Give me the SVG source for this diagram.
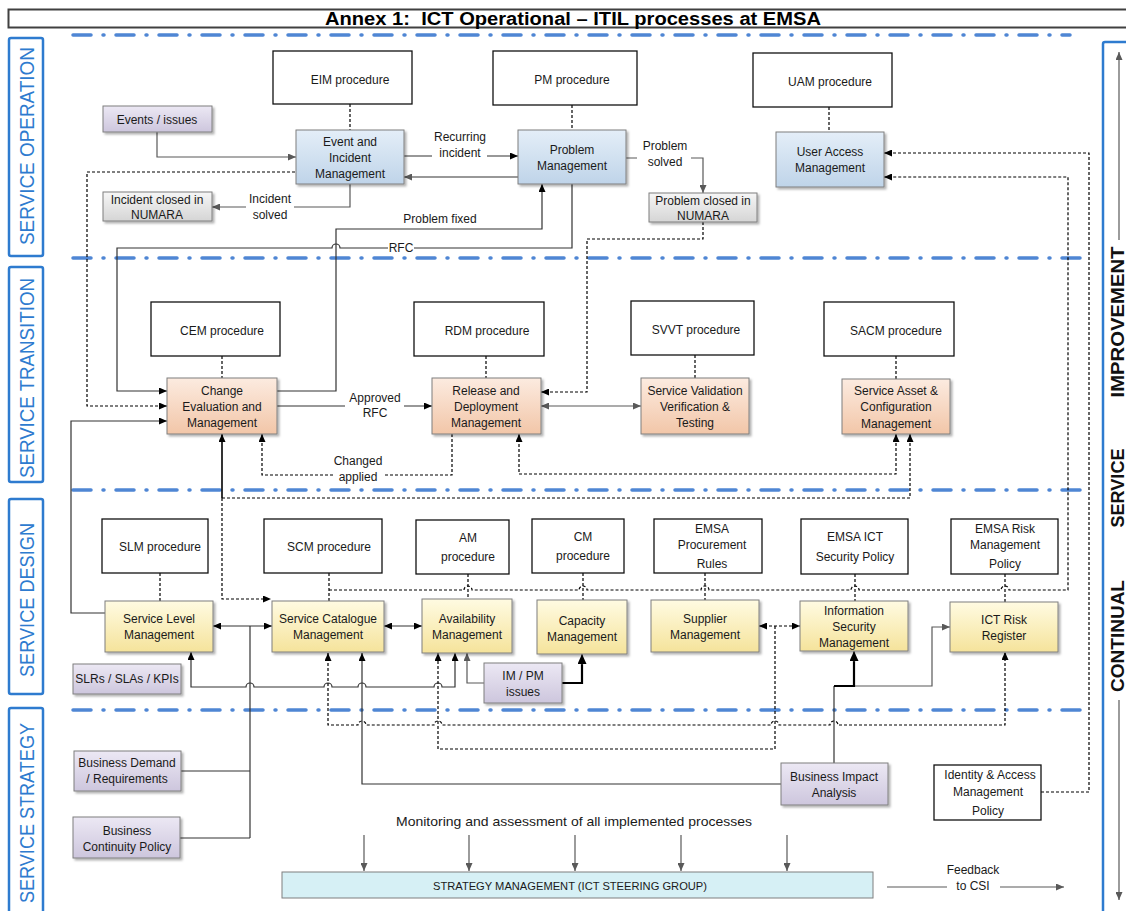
<svg xmlns="http://www.w3.org/2000/svg" width="1126" height="911" viewBox="0 0 1126 911">
<style>
text{font-family:"Liberation Sans",Arial,sans-serif;font-size:12px;fill:#1a1a1a;text-anchor:middle}
.lane{fill:none;stroke:#2e7bcf;stroke-width:2.5}
.lt{font-size:21px;fill:#2e7bcf}
.csi{font-size:19px;font-weight:bold;fill:#111}
.sep{fill:none;stroke:#4f86d4;stroke-width:3.5;stroke-dasharray:18 12 1 12;stroke-linecap:round}
.proc{fill:#fff;stroke:#111;stroke-width:1.3}
.box{stroke:#7f7f7f;stroke-width:1;filter:url(#sh)}
.bl{fill:url(#gB)}.or{fill:url(#gO)}.ye{fill:url(#gY)}.pu{fill:url(#gP)}.gr{fill:url(#gG)}
.ln{fill:none;stroke:#333;stroke-width:1.2}
.lg{fill:none;stroke:#595959;stroke-width:1.2}
.tk{fill:none;stroke:#000;stroke-width:2.2}
.ds{fill:none;stroke:#000;stroke-width:1.2;stroke-dasharray:3 2}
.wb{fill:#fff}
</style>
<defs>
<linearGradient id="gB" x1="0" y1="0" x2="0" y2="1"><stop offset="0" stop-color="#e4eef8"/><stop offset="1" stop-color="#bfd4e9"/></linearGradient>
<linearGradient id="gO" x1="0" y1="0" x2="0" y2="1"><stop offset="0" stop-color="#fcebe0"/><stop offset="1" stop-color="#f2c6a8"/></linearGradient>
<linearGradient id="gY" x1="0" y1="0" x2="0" y2="1"><stop offset="0" stop-color="#fffbe2"/><stop offset="1" stop-color="#f5e39b"/></linearGradient>
<linearGradient id="gP" x1="0" y1="0" x2="0" y2="1"><stop offset="0" stop-color="#ece8f4"/><stop offset="1" stop-color="#cdc6dd"/></linearGradient>
<linearGradient id="gG" x1="0" y1="0" x2="0" y2="1"><stop offset="0" stop-color="#f6f6f6"/><stop offset="1" stop-color="#d5d5d5"/></linearGradient>
<filter id="sh" x="-10%" y="-10%" width="125%" height="135%"><feDropShadow dx="2" dy="2" stdDeviation="1.2" flood-color="#000" flood-opacity="0.3"/></filter>
<marker id="a" viewBox="0 0 8 7" refX="8" refY="3.5" markerWidth="8" markerHeight="7" markerUnits="userSpaceOnUse" orient="auto-start-reverse"><path d="M0,0 L8,3.5 L0,7 z" fill="#000"/></marker>
<marker id="ag" viewBox="0 0 8 7" refX="8" refY="3.5" markerWidth="8" markerHeight="7" markerUnits="userSpaceOnUse" orient="auto-start-reverse"><path d="M0,0 L8,3.5 L0,7 z" fill="#595959"/></marker>
<marker id="ab" viewBox="0 0 10 9" refX="10" refY="4.5" markerWidth="10" markerHeight="9" markerUnits="userSpaceOnUse" orient="auto-start-reverse"><path d="M0,0 L10,4.5 L0,9 z" fill="#000"/></marker>
</defs>
<rect width="1126" height="911" fill="#fff"/>

<!-- title -->
<g id="title">
<rect x="8.5" y="9.5" width="1130" height="18" fill="none" stroke="#404040" stroke-width="2"/>
<text x="573" y="25" style="font-size:18px;font-weight:bold;fill:#000" textLength="496" lengthAdjust="spacingAndGlyphs">Annex 1:&#160; ICT Operational – ITIL processes at EMSA</text>
</g>

<!-- separators -->
<g id="separators">
<path class="sep" d="M73,35 H1070"/>
<path class="sep" d="M73,258 H1085"/>
<path class="sep" d="M73,490 H1085"/>
<path class="sep" d="M73,710 H1085"/>
</g>

<!-- lanes -->
<g id="lane-operation"><rect class="lane" x="9" y="38" width="34" height="218" rx="2"/><text class="lt" transform="translate(34,146) rotate(-90)" textLength="198" lengthAdjust="spacingAndGlyphs">SERVICE OPERATION</text></g>
<g id="lane-transition"><rect class="lane" x="9" y="267" width="34" height="215" rx="2"/><text class="lt" transform="translate(34,378) rotate(-90)" textLength="200" lengthAdjust="spacingAndGlyphs">SERVICE TRANSITION</text></g>
<g id="lane-design"><rect class="lane" x="9" y="499" width="34" height="195" rx="2"/><text class="lt" transform="translate(34,600) rotate(-90)" textLength="154" lengthAdjust="spacingAndGlyphs">SERVICE DESIGN</text></g>
<g id="lane-strategy"><rect class="lane" x="9" y="708" width="34" height="210" rx="2"/><text class="lt" transform="translate(34,813) rotate(-90)" textLength="180" lengthAdjust="spacingAndGlyphs">SERVICE STRATEGY</text></g>
<g id="csi">
<rect class="lane" x="1103" y="42" width="40" height="880" rx="2"/>
<path class="lg" d="M1119,240 V52" marker-end="url(#ag)"/>
<path class="lg" d="M1119,700 V900" marker-end="url(#ag)"/>
<text class="csi" transform="translate(1124,322) rotate(-90)" textLength="151" lengthAdjust="spacingAndGlyphs">IMPROVEMENT</text>
<text class="csi" transform="translate(1124,488) rotate(-90)" textLength="79" lengthAdjust="spacingAndGlyphs">SERVICE</text>
<text class="csi" transform="translate(1124,636) rotate(-90)" textLength="112" lengthAdjust="spacingAndGlyphs">CONTINUAL</text>
</g>

<!-- connectors -->
<g id="connectors">
<!-- operation -->
<path class="ds" d="M350,104 V130"/>
<path class="ds" d="M572,105 V130"/>
<path class="ds" d="M829,107 V132"/>
<path class="lg" d="M157,132 V157 H296" marker-end="url(#ag)"/>
<path class="ln" d="M404,156 H518" marker-end="url(#a)"/>
<path class="ln" d="M518,177 H404" marker-end="url(#ag)"/>
<path class="lg" d="M350,184 V207 H212" marker-end="url(#ag)"/>
<path class="lg" d="M626,158 H703 V193" marker-end="url(#ag)"/>
<path class="ds" d="M703,222 V239 H587 V392 H541" marker-end="url(#a)"/>
<path class="ln" d="M277,391 H336 V229 H542 V184" marker-end="url(#a)"/>
<path class="ln" d="M572,184 V248 H340 A4,4 0 0 0 332,248 H117 V391 H167" marker-end="url(#a)"/>
<path class="ds" d="M295,172 H87 V406 H167" marker-end="url(#a)"/>
<path class="ln" d="M105,613 H71 V421 H167" marker-end="url(#a)"/>
<!-- transition -->
<path class="ds" d="M222,356 V378"/>
<path class="ds" d="M486,356 V378"/>
<path class="ds" d="M695,355 V378"/>
<path class="ds" d="M896,356 V379"/>
<path class="ln" d="M277,406 H432" marker-end="url(#a)"/>
<path class="lg" d="M541,406 H641" marker-start="url(#ag)" marker-end="url(#ag)"/>
<path class="ds" d="M452,434 V475 H262 V434" marker-end="url(#a)"/>
<path class="ds" d="M519,434 V474 H896 V434" marker-start="url(#a)" marker-end="url(#a)"/>
<path class="ds" d="M222,498 V599 H271" marker-end="url(#a)"/>
<path d="M222,498 V434" fill="none" stroke="#000" stroke-width="1.6" marker-end="url(#a)"/>
<path class="ds" d="M222,498 H910 V434" marker-end="url(#a)"/>
<!-- design -->
<path class="ds" d="M160,573 V601"/>
<path class="ds" d="M329,573 V601"/>
<path class="ds" d="M468,574 V599"/>
<path class="ds" d="M583,573 V600"/>
<path class="ds" d="M705,573 V600"/>
<path class="ds" d="M855,574 V601"/>
<path class="ds" d="M1005,574 V602"/>
<path class="ds" d="M329,590 H464 A4,4 0 0 1 472,590 H579 A4,4 0 0 1 587,590 H701 A4,4 0 0 1 709,590 H851 A4,4 0 0 1 859,590 H1001 A4,4 0 0 1 1009,590 H1068 V177 H884" marker-end="url(#a)"/>
<path class="ds" d="M1041,792 H1089 V153 H884" marker-end="url(#a)"/>
<path class="ln" d="M213,626 H272" marker-start="url(#a)" marker-end="url(#a)"/>
<path class="ln" d="M384,626 H422" marker-start="url(#a)" marker-end="url(#a)"/>
<path class="ln" d="M250,838 V626"/>
<path class="ln" d="M181,771 H250"/>
<path class="ln" d="M180,838 H250"/>
<path class="ln" d="M191,652 V687 H246 A4,4 0 0 1 254,687 H324 A4,4 0 0 1 332,687 H358 A4,4 0 0 1 366,687 H434 A4,4 0 0 1 442,687 H455 V653" marker-start="url(#a)" marker-end="url(#a)"/>
<path class="ds" d="M328,653 V725 H358 A4,4 0 0 1 366,725 H434 A4,4 0 0 1 442,725 H771 A4,4 0 0 1 779,725 H830 A4,4 0 0 1 838,725 H1005 V652" marker-start="url(#a)" marker-end="url(#a)"/>
<path class="ds" d="M759,626 H800" marker-start="url(#a)" marker-end="url(#a)"/>
<path class="ds" d="M775,626 V749 H438 V653" marker-end="url(#a)"/>
<path class="ln" d="M781,784 H362 V653" marker-end="url(#a)"/>
<path class="lg" d="M854,686 H932 V627 H950" marker-end="url(#ag)"/>
<path class="ln" d="M834,763 V686"/>
<path class="tk" d="M834,686 H854 V661"/>
<path class="ln" d="M854,662 V651" marker-end="url(#ab)"/>
<path class="lg" d="M484,683 H467 V653" marker-end="url(#ag)"/>
<path class="tk" d="M562,683 H582 V664"/>
<path class="ln" d="M582,665 V654" marker-end="url(#ab)"/>
<!-- strategy -->
<path class="lg" d="M364,835 V871" marker-end="url(#ag)"/>
<path class="lg" d="M469,835 V871" marker-end="url(#ag)"/>
<path class="lg" d="M575,835 V871" marker-end="url(#ag)"/>
<path class="lg" d="M681,835 V871" marker-end="url(#ag)"/>
<path class="lg" d="M787,835 V871" marker-end="url(#ag)"/>
<path class="lg" d="M887,887 H947"/>
<path class="lg" d="M1000,887 H1064" marker-end="url(#ag)"/>
<!-- labels -->
<rect class="wb" x="432" y="129" width="55" height="30"/>
<text x="460" y="141">Recurring</text><text x="460" y="157">incident</text>
<rect class="wb" x="246" y="190" width="48" height="30"/>
<text x="270" y="203">Incident</text><text x="270" y="219">solved</text>
<rect class="wb" x="637" y="138" width="54" height="30"/>
<text x="665" y="150">Problem</text><text x="665" y="166">solved</text>
<text x="440" y="223">Problem fixed</text>
<rect class="wb" x="388" y="241" width="26" height="14"/>
<text x="401" y="252">RFC</text>
<rect class="wb" x="345" y="390" width="59" height="30"/>
<text x="375" y="402">Approved</text><text x="375" y="417">RFC</text>
<rect class="wb" x="333" y="453" width="52" height="32"/>
<text x="358" y="465">Changed</text><text x="358" y="481">applied</text>
<text x="574" y="826" style="font-size:13px" textLength="356" lengthAdjust="spacingAndGlyphs">Monitoring and assessment of all implemented processes</text>
<text x="973" y="874">Feedback</text><text x="973" y="890">to CSI</text>
</g>

<!-- procedures -->
<g id="eim-proc"><rect class="proc" x="273" y="51" width="139" height="53"/><text x="350" y="84">EIM procedure</text></g>
<g id="pm-proc"><rect class="proc" x="493" y="51" width="144" height="54"/><text x="572" y="84">PM procedure</text></g>
<g id="uam-proc"><rect class="proc" x="753" y="53" width="139" height="54"/><text x="830" y="86">UAM procedure</text></g>
<g id="cem-proc"><rect class="proc" x="151" y="302" width="129" height="54"/><text x="222" y="335">CEM procedure</text></g>
<g id="rdm-proc"><rect class="proc" x="414" y="302" width="130" height="54"/><text x="487" y="335">RDM procedure</text></g>
<g id="svvt-proc"><rect class="proc" x="631" y="301" width="123" height="54"/><text x="696" y="334">SVVT procedure</text></g>
<g id="sacm-proc"><rect class="proc" x="824" y="302" width="130" height="54"/><text x="896" y="335">SACM procedure</text></g>
<g id="slm-proc"><rect class="proc" x="102" y="519" width="106" height="54"/><text x="160" y="551">SLM procedure</text></g>
<g id="scm-proc"><rect class="proc" x="264" y="519" width="118" height="54"/><text x="329" y="551">SCM procedure</text></g>
<g id="am-proc"><rect class="proc" x="416" y="520" width="93" height="54"/><text x="468" y="542">AM</text><text x="468" y="561">procedure</text></g>
<g id="cm-proc"><rect class="proc" x="532" y="519" width="92" height="54"/><text x="583" y="541">CM</text><text x="583" y="560">procedure</text></g>
<g id="procurement"><rect class="proc" x="654" y="519" width="108" height="54"/><text x="712" y="533">EMSA</text><text x="712" y="549">Procurement</text><text x="712" y="568">Rules</text></g>
<g id="security-policy"><rect class="proc" x="801" y="519" width="107" height="55"/><text x="855" y="541">EMSA ICT</text><text x="855" y="561">Security Policy</text></g>
<g id="risk-policy"><rect class="proc" x="951" y="519" width="107" height="55"/><text x="1005" y="533">EMSA Risk</text><text x="1005" y="549">Management</text><text x="1005" y="568">Policy</text></g>
<g id="iam-policy"><rect class="proc" x="934" y="765" width="107" height="55"/><text x="990" y="779">Identity &amp; Access</text><text x="988" y="796">Management</text><text x="988" y="815">Policy</text></g>

<!-- operation nodes -->
<g id="events"><rect class="box pu" x="103" y="106" width="109" height="26"/><text x="157" y="124">Events / issues</text></g>
<g id="eim"><rect class="box bl" x="296" y="130" width="108" height="54"/><text x="350" y="146">Event and</text><text x="350" y="162">Incident</text><text x="350" y="178">Management</text></g>
<g id="pm"><rect class="box bl" x="518" y="130" width="108" height="54"/><text x="572" y="154">Problem</text><text x="572" y="170">Management</text></g>
<g id="uam"><rect class="box bl" x="776" y="132" width="108" height="55"/><text x="830" y="156">User Access</text><text x="830" y="172">Management</text></g>
<g id="inc-closed"><rect class="box gr" x="103" y="192" width="109" height="29"/><text x="157" y="204">Incident closed in</text><text x="157" y="219">NUMARA</text></g>
<g id="prob-closed"><rect class="box gr" x="649" y="193" width="108" height="29"/><text x="703" y="205">Problem closed in</text><text x="703" y="220">NUMARA</text></g>

<!-- transition nodes -->
<g id="cem"><rect class="box or" x="167" y="378" width="110" height="56"/><text x="222" y="395">Change</text><text x="222" y="411">Evaluation and</text><text x="222" y="427">Management</text></g>
<g id="rdm"><rect class="box or" x="432" y="378" width="109" height="56"/><text x="486" y="395">Release and</text><text x="486" y="411">Deployment</text><text x="486" y="427">Management</text></g>
<g id="svvt"><rect class="box or" x="641" y="378" width="108" height="56"/><text x="695" y="395">Service Validation</text><text x="695" y="411">Verification &amp;</text><text x="695" y="427">Testing</text></g>
<g id="sacm"><rect class="box or" x="842" y="379" width="108" height="55"/><text x="896" y="395">Service Asset &amp;</text><text x="896" y="411">Configuration</text><text x="896" y="428">Management</text></g>

<!-- design nodes -->
<g id="slm"><rect class="box ye" x="105" y="601" width="108" height="51"/><text x="159" y="623">Service Level</text><text x="159" y="639">Management</text></g>
<g id="scm"><rect class="box ye" x="272" y="601" width="112" height="51"/><text x="328" y="623">Service Catalogue</text><text x="328" y="639">Management</text></g>
<g id="am"><rect class="box ye" x="422" y="599" width="90" height="54"/><text x="467" y="623">Availability</text><text x="467" y="639">Management</text></g>
<g id="cm"><rect class="box ye" x="537" y="600" width="90" height="54"/><text x="582" y="625">Capacity</text><text x="582" y="641">Management</text></g>
<g id="supplier"><rect class="box ye" x="651" y="600" width="108" height="52"/><text x="705" y="623">Supplier</text><text x="705" y="639">Management</text></g>
<g id="ism"><rect class="box ye" x="800" y="601" width="108" height="50"/><text x="854" y="615">Information</text><text x="854" y="631">Security</text><text x="854" y="647">Management</text></g>
<g id="risk-register"><rect class="box ye" x="950" y="602" width="108" height="50"/><text x="1004" y="624">ICT Risk</text><text x="1004" y="640">Register</text></g>
<g id="slrs"><rect class="box pu" x="73" y="664" width="108" height="30"/><text x="127" y="683">SLRs / SLAs / KPIs</text></g>
<g id="impm"><rect class="box pu" x="484" y="663" width="78" height="40"/><text x="523" y="680">IM / PM</text><text x="523" y="696">issues</text></g>

<!-- strategy nodes -->
<g id="bus-demand"><rect class="box pu" x="74" y="751" width="107" height="40"/><text x="127" y="767">Business Demand</text><text x="127" y="783">/ Requirements</text></g>
<g id="bus-continuity"><rect class="box pu" x="73" y="817" width="107" height="41"/><text x="127" y="835">Business</text><text x="127" y="851">Continuity Policy</text></g>
<g id="bia"><rect class="box pu" x="781" y="763" width="107" height="42"/><text x="834" y="781">Business Impact</text><text x="834" y="797">Analysis</text></g>
<g id="strategy-mgmt"><rect x="282" y="872" width="591" height="26" fill="#d6f0f5" stroke="#7f7f7f" stroke-width="1"/><text x="570" y="890" style="font-size:11px" textLength="274" lengthAdjust="spacingAndGlyphs">STRATEGY MANAGEMENT (ICT STEERING GROUP)</text></g>
</svg>
